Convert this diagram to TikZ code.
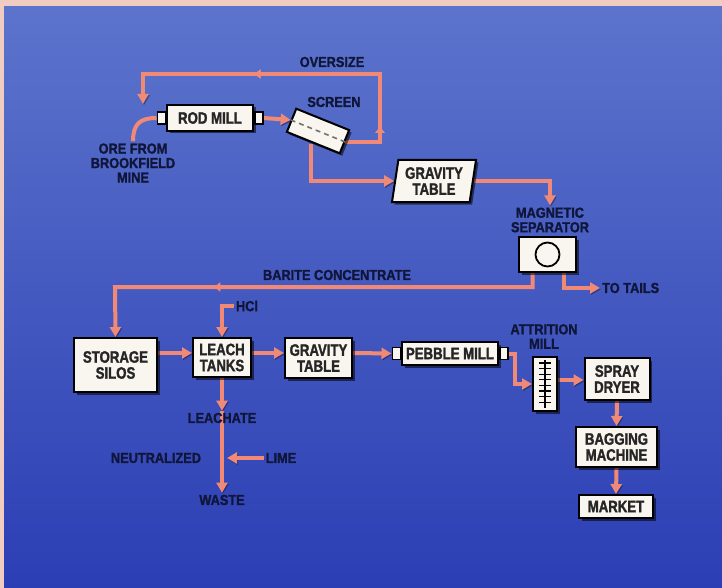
\documentclass[tikz,border=0pt]{standalone}
\usepackage{fontspec}
\setmainfont{Liberation Sans}
\newfontfamily\boxfont{Liberation Sans Bold}[FakeStretch=0.8, FakeBold=1.6]
\newfontfamily\lblfont{Liberation Sans Bold}[FakeStretch=0.88, FakeBold=1.4]
\usetikzlibrary{arrows.meta,shadows,decorations.markings,calc,shapes.geometric}
\pgfdeclarelayer{bg}
\pgfdeclarelayer{lines}
\pgfsetlayers{bg,lines,main}
\definecolor{pinkbg}{RGB}{240,205,192}
\definecolor{bluetop}{RGB}{92,116,204}
\definecolor{bluebot}{RGB}{44,62,180}
\definecolor{flow}{RGB}{240,138,118}
\definecolor{ink}{RGB}{16,22,58}
\definecolor{boxfill}{RGB}{248,246,238}
\definecolor{shade}{RGB}{20,24,70}
\begin{document}
\begin{tikzpicture}[x=1pt,y=-1pt,
  box/.style={draw=black, line width=2pt, fill=boxfill, text=black!85,
    font=\boxfont\fontsize{16.5}{16}\selectfont, align=center, inner sep=0pt,
    drop shadow={shadow xshift=2.5pt, shadow yshift=-2.5pt, fill=black, opacity=0.55}},
  endcap/.style={draw=black, line width=1.5pt, fill=boxfill, minimum width=8, minimum height=12, inner sep=0pt},
  lbl/.style={font=\lblfont\fontsize{14.5}{14.5}\selectfont, text=ink, align=center, inner sep=2pt},
  flowline/.style={draw=flow, line width=4pt,
    preaction={draw=shade, opacity=0.45, transform canvas={shift={(1pt,-1.2pt)}}}},
  arr/.style={flowline, -{Triangle[length=10pt,width=11pt]}},
  midarr/.style={postaction={decorate}, decoration={markings,
     mark=at position #1 with {\arrow[flow]{Triangle[length=6pt,width=9pt]}}}},
]
\begin{pgfonlayer}{bg}
\fill[pinkbg] (0,0) rectangle (722,588);
\shade[top color=bluetop, bottom color=bluebot] (4,7) rectangle (722,588);
\end{pgfonlayer}
\useasboundingbox (0,0) rectangle (722,588);

% upper circuit
\node[box, minimum width=86, minimum height=26] (rod) at (210,118) {ROD MILL};
\node[endcap, anchor=east] (rodL) at (rod.west) {};
\node[endcap, anchor=west] (rodR) at (rod.east) {};
\node[lbl] (ore) at (133,163) {ORE FROM\\BROOKFIELD\\MINE};
\node[lbl] (oversize) at (332,62) {OVERSIZE};
\node[lbl] (screenlbl) at (334,102) {SCREEN};
\node[box, rotate=-22, minimum width=57, minimum height=25] (screen) at (318,131) {};
\draw[black!55, line width=1.6pt, dash pattern=on 5pt off 4pt] (screen.west) -- (screen.east);
\node[box, trapezium, trapezium left angle=77, trapezium right angle=103,
      trapezium stretches body, minimum width=84, minimum height=42] (gt1) at (434,181) {GRAVITY\\TABLE};
\node[lbl] (maglbl) at (550,220) {MAGNETIC\\SEPARATOR};
\node[box, minimum width=57, minimum height=35] (mag) at (547.5,254.5) {};
\node[circle, draw=black, line width=1.8pt, minimum size=24, inner sep=0pt] (magc) at (mag.center) {};
\node[lbl] (barite) at (337,275) {BARITE CONCENTRATE};
\node[lbl, anchor=west] (tails) at (600,288) {TO TAILS};
\coordinate (feed) at (143,104);
\coordinate (os1) at (380,74);
\coordinate (os2) at (143,74);

% lower circuit
\node[box, minimum width=83, minimum height=54] (silos) at (115.5,365) {STORAGE\\SILOS};
\node[box, minimum width=58, minimum height=39] (leach) at (222,357.5) {LEACH\\TANKS};
\node[lbl] (hcl) at (247,306) {HCl};
\node[lbl] (leachate) at (222,418) {LEACHATE};
\node[lbl] (neut) at (156,458) {NEUTRALIZED};
\node[lbl] (lime) at (281,458) {LIME};
\node[lbl] (waste) at (222,500) {WASTE};
\coordinate (limeend) at (227,458);
\coordinate (bc) at (115,287);
\node[box, minimum width=67, minimum height=40] (gt2) at (318.5,358) {GRAVITY\\TABLE};
\node[box, minimum width=96, minimum height=23] (pebble) at (450,353.5) {PEBBLE MILL};
\node[endcap, anchor=east] (pebL) at (pebble.west) {};
\node[endcap, anchor=west] (pebR) at (pebble.east) {};
\node[lbl] (attrlbl) at (544,336.5) {ATTRITION\\MILL};
\node[box, minimum width=24, minimum height=54] (attr) at (545,384) {};
\draw[black, line width=1.3pt] ($(attr.north)+(0,4)$) -- ($(attr.south)+(0,-4)$);
\foreach \k in {0,...,7}
  \draw[black, line width=1.3pt] ($(attr.north)+(-6,7+5.6*\k)$) -- ++(12,0);
\node[box, minimum width=65, minimum height=42] (spray) at (617,379) {SPRAY\\DRYER};
\node[box, minimum width=81, minimum height=40] (bag) at (616.5,447) {BAGGING\\MACHINE};
\node[box, minimum width=74, minimum height=23] (market) at (616,506.5) {MARKET};

\begin{pgfonlayer}{lines}
% upper
\draw[flowline] (ore.north) .. controls (133,124) and (140,118) .. (rodL.west);
\draw[arr] (rodR.east) -- (screen.west);
\draw[arr, midarr=0.135, midarr=0.617] (screen.east) -| (os1) -- (os2) -- (feed);
\draw[arr] ($(screen.south)+(-2,0)$) |- (gt1.west);
\draw[arr] (gt1.east) -| (maglbl.north);
\draw[arr, midarr=0.69] ($(mag.south)+(-15,0)$) |- (bc) -- (silos.north);
\draw[arr] ($(mag.south)+(16,0)$) |- (tails.west);
% lower
\draw[arr] (silos.east |- 0,353) -- (leach.west |- 0,353);
\draw[arr] (hcl.west) -| (leach.north);
\draw[arr] (leach.south) -- (leachate.north);
\draw[arr] (leachate.north) -- (waste.north);
\draw[arr] (lime.west) -- (limeend);
\draw[arr] (leach.east |- 0,353) -- (gt2.west |- 0,353);
\draw[arr] (gt2.east |- 0,353) -- (pebL.west);
\draw[arr] (pebR.east) -- ++(6,0) |- (attr.west);
\draw[arr] (attr.east |- 0,380) -- (spray.west |- 0,380);
\draw[arr] (spray.south) -- (bag.north);
\draw[arr] (bag.south) -- (market.north);
\end{pgfonlayer}
\end{tikzpicture}
\end{document}
